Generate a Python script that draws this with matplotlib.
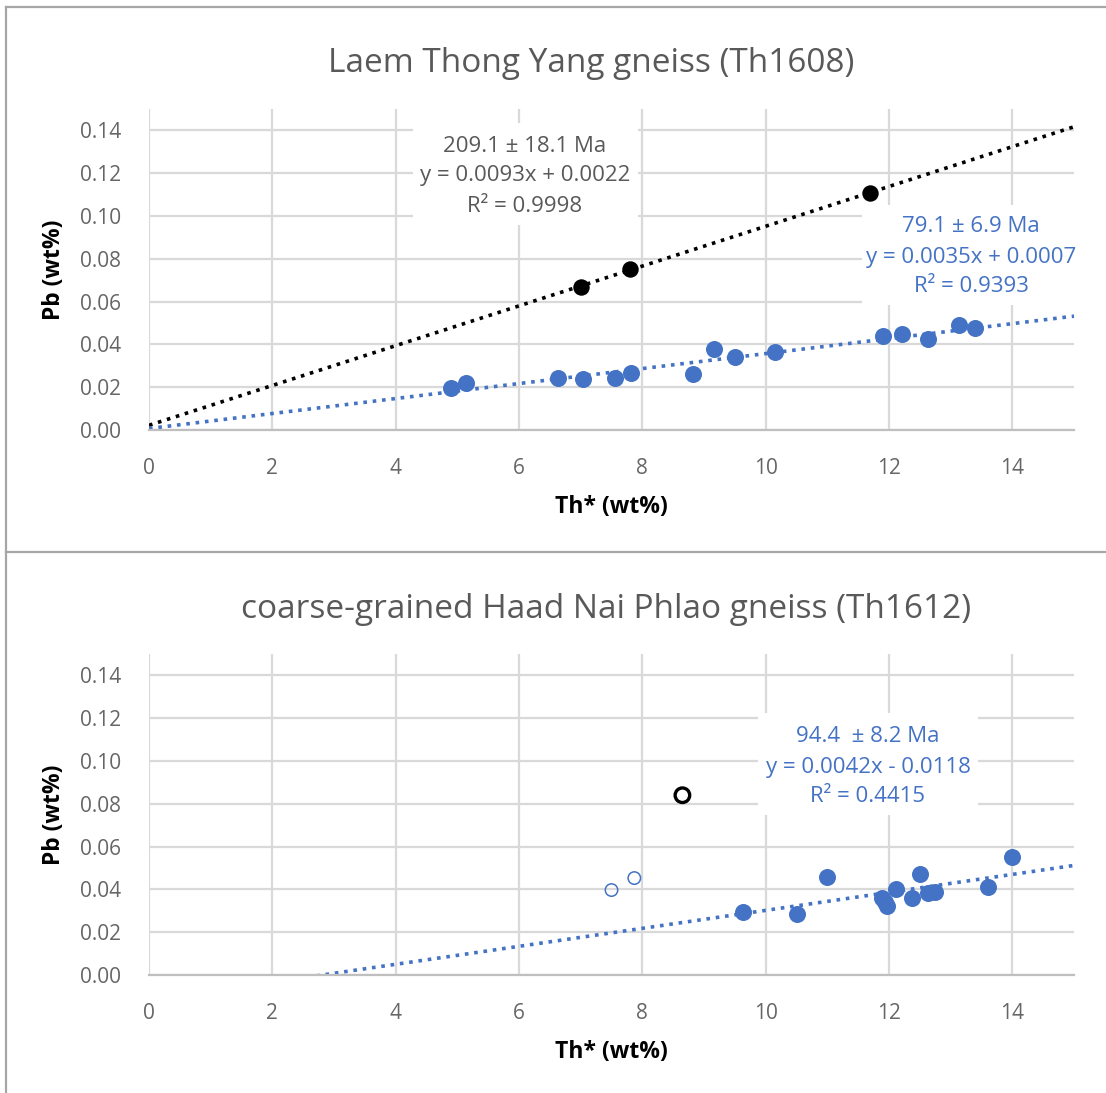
import matplotlib
matplotlib.use("Agg")
import matplotlib.pyplot as plt
from matplotlib.lines import Line2D
import numpy as np

plt.rcParams['font.family'] = ['Open Sans', 'DejaVu Sans']

BLUE = '#4472C4'
GRID = '#d9d9d9'
TXT = '#595959'

# ---- Th1608 data ----
th1608_blue_x = [4.89, 5.14, 6.63, 7.03, 7.55, 7.81, 8.82, 9.16, 9.50, 10.15, 11.91, 12.21, 12.64, 13.14, 13.39]
th1608_blue_y = [0.0196, 0.0219, 0.0243, 0.0238, 0.0243, 0.0266, 0.0261, 0.0378, 0.0341, 0.0364, 0.0439, 0.0448, 0.0425, 0.0490, 0.0476]
th1608_black_x = [7.00, 7.80, 11.70]
th1608_black_y = [0.0667, 0.0751, 0.1106]
th1608_black_fit = (0.0093, 0.0022)
th1608_blue_fit = (0.0035, 0.0007)

# ---- Th1612 data ----
th1612_blue_x = [9.63, 10.50, 10.99, 11.88, 11.93, 11.97, 12.12, 12.38, 12.51, 12.63, 12.74, 13.61, 14.00]
th1612_blue_y = [0.0294, 0.0285, 0.0457, 0.0358, 0.0340, 0.0322, 0.0401, 0.0359, 0.0471, 0.0383, 0.0387, 0.0411, 0.0551]
th1612_open_blue_x = [7.50, 7.87]
th1612_open_blue_y = [0.0397, 0.0453]
th1612_open_black_x = [8.65]
th1612_open_black_y = [0.0840]
th1612_blue_fit = (0.0042, -0.0118)

x_ticks = [0, 2, 4, 6, 8, 10, 12, 14]
y_ticks = [0.00, 0.02, 0.04, 0.06, 0.08, 0.10, 0.12, 0.14]

W, H = 1106, 1093
fig = plt.figure(figsize=(W / 100, H / 100), dpi=100)


def fx(px):
    return px / W


def fy(py):
    return 1 - py / H


def setup(ax, title, title_x, title_y):
    ax.set_xlim(0, 15)
    ax.set_ylim(0, 0.15)
    ax.set_xticks(x_ticks)
    ax.set_yticks(y_ticks)
    ax.set_yticklabels([f"{v:.2f}" for v in y_ticks])
    ax.grid(True, color=GRID, linewidth=1.6, zorder=0)
    ax.set_axisbelow(True)
    for s in ['top', 'right']:
        ax.spines[s].set_visible(False)
    ax.spines['left'].set_visible(False)
    ax.spines['bottom'].set_color('#bfbfbf')
    ax.spines['bottom'].set_linewidth(1.6)
    ax.tick_params(length=0, labelsize=15, labelcolor='#666666')
    ax.tick_params(axis='x', pad=20)
    ax.tick_params(axis='y', pad=20)
    ax.set_xlabel('Th* (wt%)', fontsize=16.5, fontweight='bold', color='black', labelpad=12)
    ax.set_ylabel('Pb (wt%)', fontsize=16.5, fontweight='bold', color='black', labelpad=10)
    fig.text(title_x, title_y, title, ha='center', va='center', fontsize=24, color=TXT)


def fit_line(ax, fit, color):
    xs = np.array([0, 15])
    ax.plot(xs, fit[0] * xs + fit[1], color=color, linestyle=(0, (1, 1.6)), linewidth=2.6, zorder=2)


def label_box(ax, x0, y0, x1, y1, lines, color, cx, ys):
    # white box hiding gridlines under the trendline label (pixel coords)
    inv = ax.transData.inverted()
    (dx0, dy0) = inv.transform((x0, H - y1))
    (dx1, dy1) = inv.transform((x1, H - y0))
    ax.add_patch(plt.Rectangle((dx0, dy0), dx1 - dx0, dy1 - dy0, facecolor='white',
                               edgecolor='none', zorder=1, clip_on=False))
    for t, yy in zip(lines, ys):
        fig.text(fx(cx), fy(yy), t, ha='center', va='center', fontsize=16, color=color, zorder=5)


# ---- top panel ----
ax1 = fig.add_axes([fx(149), fy(430), fx(1074) - fx(149), fy(109) - fy(430)])
setup(ax1, 'Laem Thong Yang gneiss (Th1608)', fx(591), fy(64))
fit_line(ax1, th1608_black_fit, 'black')
fit_line(ax1, th1608_blue_fit, BLUE)
ax1.scatter(th1608_blue_x, th1608_blue_y, s=150, color=BLUE, zorder=3, linewidths=0)
ax1.scatter(th1608_black_x, th1608_black_y, s=140, color='black', zorder=3, linewidths=0)
fig.canvas.draw()
label_box(ax1, 413, 123, 638, 225,
          ['209.1 ± 18.1 Ma', 'y = 0.0093x + 0.0022', 'R² = 0.9998'], TXT, 525, [146, 176, 206])
label_box(ax1, 862, 205, 1078, 305,
          ['79.1 ± 6.9 Ma', 'y = 0.0035x + 0.0007', 'R² = 0.9393'], BLUE, 971, [227, 257, 287])

# ---- bottom panel ----
ax2 = fig.add_axes([fx(149), fy(975), fx(1074) - fx(149), fy(654) - fy(975)])
setup(ax2, 'coarse-grained Haad Nai Phlao gneiss (Th1612)', fx(606), fy(610))
fit_line(ax2, th1612_blue_fit, BLUE)
ax2.scatter(th1612_blue_x, th1612_blue_y, s=150, color=BLUE, zorder=3, linewidths=0)
ax2.scatter(th1612_open_blue_x, th1612_open_blue_y, s=80, facecolors='none',
            edgecolors=BLUE, linewidths=1.1, zorder=3)
ax2.scatter(th1612_open_black_x, th1612_open_black_y, s=110, facecolors='none',
            edgecolors='black', linewidths=2.4, zorder=3)
fig.canvas.draw()
label_box(ax2, 758, 713, 978, 815,
          ['94.4  ± 8.2 Ma', 'y = 0.0042x - 0.0118', 'R² = 0.4415'], BLUE, 868, [736, 767, 797])

# ---- chart-area borders ----
bc = '#a6a6a6'
fig.add_artist(Line2D([fx(5.5), 1], [fy(6.5), fy(6.5)], color=bc, linewidth=1.6))
fig.add_artist(Line2D([fx(5.5), fx(5.5)], [0, fy(6.5)], color=bc, linewidth=1.6))
fig.add_artist(Line2D([fx(5.5), 1], [fy(552), fy(552)], color=bc, linewidth=1.6))

fig.savefig('out.png', dpi=100, facecolor='white')
